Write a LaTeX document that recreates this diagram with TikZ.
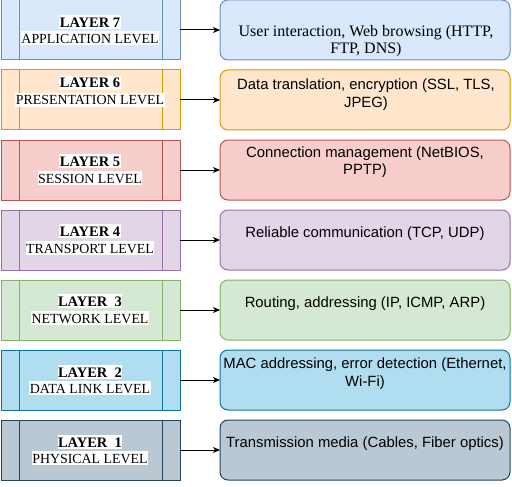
\documentclass[tikz,border=0pt]{standalone}
\usepackage{fontspec}
\setmainfont{Liberation Serif}
\newfontfamily\arialf{Liberation Sans}
\usetikzlibrary{arrows.meta}
\definecolor{f7}{HTML}{DAE8FC}\definecolor{d7}{HTML}{6C8EBF}
\definecolor{f6}{HTML}{FFE6CC}\definecolor{d6}{HTML}{D79B00}
\definecolor{f5}{HTML}{F8CECC}\definecolor{d5}{HTML}{B85450}
\definecolor{f4}{HTML}{E1D5E7}\definecolor{d4}{HTML}{9673A6}
\definecolor{f3}{HTML}{D5E8D4}\definecolor{d3}{HTML}{82B366}
\definecolor{f2}{HTML}{B1DDF0}\definecolor{d2}{HTML}{10739E}
\definecolor{f1}{HTML}{BAC8D3}\definecolor{d1}{HTML}{23445D}
\tikzset{
  lbox/.style={rectangle, minimum width=179pt, minimum height=60pt, outer sep=0pt, inner sep=0pt, line width=1pt},
  rbox/.style={rectangle, rounded corners=8pt, minimum width=290pt, minimum height=60pt, outer sep=0pt, inner sep=0pt, line width=1pt},
  ltitle/.style={anchor=base, fill=white, inner xsep=0.5pt, inner ysep=0pt, text height=12pt, text depth=2pt, font=\fontsize{14.5}{16}\selectfont\bfseries},
  llevel/.style={anchor=base, fill=white, inner xsep=0.5pt, inner ysep=0pt, text height=12pt, text depth=2pt, font=\fontsize{13.9}{16}\selectfont},
  rserif/.style={anchor=base, inner sep=0pt, font=\fontsize{16}{17}\selectfont},
  rsans/.style={anchor=base, inner sep=0pt, font=\arialf\fontsize{14.85}{18}\selectfont},
  arr/.style={-{Stealth[length=7pt,width=6pt,inset=2pt]}, line width=1pt, black},
}
\newcommand{\procbars}[2]{%
  \draw[#2, line width=1pt] ([xshift=18pt]#1.north west) -- ([xshift=18pt]#1.south west);
  \draw[#2, line width=1pt] ([xshift=-18pt]#1.north east) -- ([xshift=-18pt]#1.south east);}
\begin{document}
\begin{tikzpicture}[x=1pt, y=-1pt]
\useasboundingbox (0,0) rectangle (512,487);
% left boxes
\node[lbox, fill=f7, draw=d7] (l7) at (90.5,30) {};
\node[lbox, fill=f6, draw=d6] (l6) at (90.5,100) {};
\node[lbox, fill=f5, draw=d5] (l5) at (90.5,170) {};
\node[lbox, fill=f4, draw=d4] (l4) at (90.5,240) {};
\node[lbox, fill=f3, draw=d3] (l3) at (90.5,310) {};
\node[lbox, fill=f2, draw=d2] (l2) at (90.5,380) {};
\node[lbox, fill=f1, draw=d1] (l1) at (90.5,450) {};
\procbars{l7}{d7}\procbars{l6}{d6}\procbars{l5}{d5}\procbars{l4}{d4}
\procbars{l3}{d3}\procbars{l2}{d2}\procbars{l1}{d1}
% right boxes
\node[rbox, fill=f7, draw=d7] (r7) at (365,30) {};
\node[rbox, fill=f6, draw=d6] (r6) at (365,100) {};
\node[rbox, fill=f5, draw=d5] (r5) at (365,170) {};
\node[rbox, fill=f4, draw=d4] (r4) at (365,240) {};
\node[rbox, fill=f3, draw=d3] (r3) at (365,310) {};
\node[rbox, fill=f2, draw=d2] (r2) at (365,380) {};
\node[rbox, fill=f1, draw=d1] (r1) at (365,450) {};
% arrows
\draw[arr] (l7) -- (r7);
\draw[arr] (l6) -- (r6);
\draw[arr] (l5) -- (r5);
\draw[arr] (l4) -- (r4);
\draw[arr] (l3) -- (r3);
\draw[arr] (l2) -- (r2);
\draw[arr] (l1) -- (r1);
% left labels
\node[ltitle] (l7a) at (90,27.3) {LAYER 7};
\node[llevel] (l7b) at (90,43.3) {APPLICATION LEVEL};
\node[ltitle] (l6a) at (90,88) {LAYER 6};
\node[llevel] (l6b) at (90,105) {PRESENTATION LEVEL};
\node[ltitle] (l5a) at (90,166) {LAYER 5};
\node[llevel] (l5b) at (90,183) {SESSION LEVEL};
\node[ltitle] (l4a) at (90,236) {LAYER 4};
\node[llevel] (l4b) at (90,253) {TRANSPORT LEVEL};
\node[ltitle] (l3a) at (90,306) {LAYER\ \ 3};
\node[llevel] (l3b) at (90,323) {NETWORK LEVEL};
\node[ltitle] (l2a) at (90,377) {LAYER\ \ 2};
\node[llevel] (l2b) at (90,393) {DATA LINK LEVEL};
\node[ltitle] (l1a) at (90,447) {LAYER\ \ 1};
\node[llevel] (l1b) at (90,463) {PHYSICAL LEVEL};
% right texts
\node[rserif] (r7a) at (366,36.7) {User interaction, Web browsing (HTTP,};
\node[rserif] (r7b) at (366,54) {FTP, DNS)};
\node[rsans] (r6a) at (366,89.3) {Data translation, encryption (SSL, TLS,};
\node[rsans] (r6b) at (366,108) {JPEG)};
\node[rsans] (r5a) at (365,157.3) {Connection management (NetBIOS,};
\node[rsans] (r5b) at (365,175) {PPTP)};
\node[rsans] (r4a) at (365,237.3) {Reliable communication (TCP, UDP)};
\node[rsans] (r3a) at (365,307.3) {Routing, addressing (IP, ICMP, ARP)};
\node[rsans] (r2a) at (365,368.3) {MAC addressing, error detection (Ethernet,};
\node[rsans] (r2b) at (365,386.7) {Wi-Fi)};
\node[rsans] (r1a) at (365,447.3) {Transmission media (Cables, Fiber optics)};
\end{tikzpicture}
\end{document}
